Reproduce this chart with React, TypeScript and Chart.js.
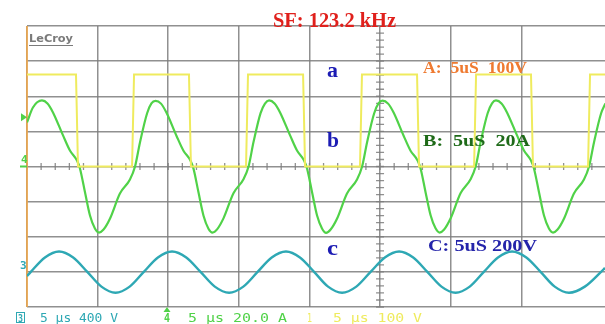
import React, { useEffect, useRef } from "react";
import { Chart, registerables } from "chart.js";

Chart.register(...registerables);

// Time base: 5 µs/div, visible window in µs
const timeStartUs = 0;
const timeEndUs = 40.93;
const timeStepUs = 5;
const centerTimeUs = 25;

// Channel 1 (yellow), 100 V/div
const yellowTimes = [0, 3.47, 3.61, 7.44, 7.58, 11.47, 11.61, 15.51, 15.65, 19.55, 19.69, 23.58, 23.72, 27.62, 27.76, 31.66, 31.8, 35.69, 35.83, 39.73, 39.87, 40.93];
const yellowVolts = [262, 262, 0, 0, 262, 262, 0, 0, 262, 262, 0, 0, 262, 262, 0, 0, 262, 262, 0, 0, 262, 262];

// Channel 4 (green), 20 A/div
const greenTimes = [
  0, 0.42,
  1.06, 1.45, 1.84, 2.55, 3.04, 3.54, 3.75, 4.11, 4.46, 4.81, 5.1, 5.42, 5.88, 6.58, 7.29, 7.65, 8.0, 8.5, 8.81,
  9.1, 9.49, 9.88, 10.59, 11.08, 11.58, 11.79, 12.15, 12.5, 12.85, 13.14, 13.46, 13.92, 14.62, 15.33, 15.69, 16.04, 16.54, 16.85,
  17.14, 17.53, 17.92, 18.63, 19.12, 19.62, 19.83, 20.19, 20.54, 20.89, 21.18, 21.5, 21.96, 22.66, 23.37, 23.73, 24.08, 24.58, 24.89,
  25.18, 25.57, 25.96, 26.67, 27.16, 27.66, 27.87, 28.23, 28.58, 28.93, 29.22, 29.54, 30.0, 30.7, 31.41, 31.77, 32.12, 32.62, 32.93,
  33.21, 33.6, 33.99, 34.7, 35.19, 35.69, 35.9, 36.26, 36.61, 36.96, 37.25, 37.57, 38.03, 38.73, 39.44, 39.8, 40.15, 40.65, 40.96,
];
const greenAmps = [
  25.1, 33.6,
  37.6, 35.9, 30.8, 17.7, 9.1, 3.4, -1.1, -14.8, -27.9, -35.3, -37.6, -35.9, -29.6, -15.4, -7.4, 0, 13.7, 30.2, 35.9,
  37.4, 35.8, 30.6, 17.4, 9.0, 3.3, -1.2, -15.0, -28.0, -35.4, -37.6, -35.8, -29.4, -15.2, -7.2, 0, 13.9, 30.4, 35.8,
  37.6, 35.9, 30.8, 17.7, 9.1, 3.4, -1.1, -14.8, -27.9, -35.3, -37.8, -35.9, -29.6, -15.4, -7.4, 0, 13.7, 30.2, 35.9,
  37.5, 35.8, 30.7, 17.5, 9.0, 3.4, -1.1, -14.9, -27.8, -35.2, -37.6, -35.9, -29.5, -15.3, -7.3, 0, 13.8, 30.3, 35.9,
  37.6, 35.9, 30.8, 17.7, 9.1, 3.4, -1.1, -14.8, -27.9, -35.3, -37.6, -35.9, -29.6, -15.4, -7.4, 0, 13.7, 30.2, 35.9,
];

// Channel 3 (cyan), 400 V/div, offset -3 div
const cyanTimes = [0, 0.27, 1.27, 2.27, 3.27, 4.27, 5.27, 6.27, 7.27, 8.27, 9.27, 10.27, 11.28, 12.29, 13.3, 14.31, 15.32, 16.33, 17.33, 18.34, 19.33, 20.33, 21.32, 22.31, 23.32, 24.33, 25.34, 26.35, 27.35, 28.35, 29.35, 30.35, 31.35, 32.35, 33.35, 34.35, 35.36, 36.37, 37.37, 38.38, 39.5, 40.65, 40.93];
const cyanVolts = [-48, 0, 164, 232, 164, 0, -168, -238, -168, 0, 164, 232, 164, 0, -168, -238, -168, 0, 164, 232, 164, 0, -168, -238, -168, 0, 164, 232, 164, 0, -168, -238, -168, 0, 164, 232, 164, 0, -168, -238, -168, 0, 45];

// Vertical scales (per division) and screen divisions
const divisions = 4;
const yellowPerDiv = 100;
const greenPerDiv = 20;
const cyanPerDiv = 400;
const cyanOffsetDiv = -3;

// Text labels
const titleText = "SF: 123.2 kHz";
const traceLetters = ["a", "b", "c"];
const traceNotes = ["A:  5uS  100V", "B:  5uS  20A", "C: 5uS 200V"];
const footerChannels = ["3", "4", "1"];
const footerTexts = ["5 \u00b5s 400 V", "5 \u00b5s 20.0 A", "5 \u00b5s 100 V"];
const brandText = "LeCroy";

const COL_YELLOW = "#efeb5e";
const COL_GREEN = "#50d248";
const COL_CYAN = "#2ea8b4";
const COL_GRID = "rgba(125,125,125,0.85)";

const SERIF = '"Liberation Serif", "DejaVu Serif", serif';
const MONO = '"DejaVu Sans Mono", monospace';

function fitText(ctx: CanvasRenderingContext2D, text: string, x: number, base: number, width: number, font: string, color: string) {
  ctx.save();
  ctx.font = font;
  const m = ctx.measureText(text).width || 1;
  ctx.translate(x, base);
  ctx.scale(width / m, 1);
  ctx.fillStyle = color;
  ctx.textBaseline = "alphabetic";
  ctx.fillText(text, 0, 0);
  ctx.restore();
}

const scopePlugin = {
  id: "scopeOverlay",
  beforeDatasetsDraw(chart: any) {
    const { ctx, chartArea, scales } = chart;
    const xs = scales.x;
    const ys = scales.y;
    const cx = xs.getPixelForValue(centerTimeUs);
    const cy = ys.getPixelForValue(0);
    ctx.save();
    ctx.strokeStyle = COL_GRID;
    ctx.lineWidth = 1.3;
    ctx.beginPath();
    // minor ticks on vertical center line (0.2 div)
    for (let v = -divisions * yellowPerDiv; v <= divisions * yellowPerDiv; v += yellowPerDiv / 5) {
      const py = ys.getPixelForValue(v);
      ctx.moveTo(cx - 4, py);
      ctx.lineTo(cx + 4, py);
    }
    // minor ticks on horizontal center line (0.2 div)
    for (let t = timeStartUs; t <= timeEndUs; t += timeStepUs / 5) {
      const px = xs.getPixelForValue(t);
      ctx.moveTo(px, cy - 3.5);
      ctx.lineTo(px, cy + 3.5);
    }
    ctx.stroke();
    // orange left border
    ctx.strokeStyle = "#f3a94a";
    ctx.lineWidth = 1.6;
    ctx.beginPath();
    ctx.moveTo(chartArea.left, chartArea.top);
    ctx.lineTo(chartArea.left, chartArea.bottom);
    ctx.stroke();
    ctx.restore();
  },
  afterDraw(chart: any) {
    const { ctx, chartArea, scales } = chart;
    const ys = scales.y;
    const yg = scales.yG;
    const yc = scales.yC;
    ctx.save();
    // brand
    ctx.font = 'bold 11px "DejaVu Sans", sans-serif';
    ctx.fillStyle = "#7a7a7a";
    fitText(ctx, brandText, chartArea.left + 2, chartArea.top + 16, 44, 'bold 11px "DejaVu Sans", sans-serif', "#7a7a7a");
    ctx.strokeStyle = "#7a7a7a";
    ctx.lineWidth = 1;
    ctx.beginPath();
    ctx.moveTo(chartArea.left + 2, chartArea.top + 19.5);
    ctx.lineTo(chartArea.left + 46, chartArea.top + 19.5);
    ctx.stroke();

    // left markers
    const trigY = yg.getPixelForValue(28);
    ctx.fillStyle = COL_GREEN;
    ctx.beginPath();
    ctx.moveTo(chartArea.left - 6, trigY - 4);
    ctx.lineTo(chartArea.left, trigY);
    ctx.lineTo(chartArea.left - 6, trigY + 4);
    ctx.closePath();
    ctx.fill();
    const g0 = yg.getPixelForValue(0);
    ctx.fillRect(chartArea.left - 7, g0 - 1, 7, 2);
    ctx.font = "bold 11px " + MONO;
    ctx.fillText(footerChannels[1], chartArea.left - 6, g0 - 4);
    const c0 = yc.getPixelForValue(0);
    ctx.fillStyle = COL_CYAN;
    ctx.fillText(footerChannels[0], chartArea.left - 7, c0 - 3);

    // title
    fitText(ctx, titleText, 273, chartArea.top + 1, 123, "bold 20px " + SERIF, "#e0201c");

    // trace letters
    const letterFont = "bold 20px " + SERIF;
    const blue = "#1c1cb4";
    fitText(ctx, traceLetters[0], 327, 77, 11, letterFont, blue);
    fitText(ctx, traceLetters[1], 327, 147, 12, letterFont, blue);
    fitText(ctx, traceLetters[2], 327, 255, 11, letterFont, blue);

    // channel notes
    const noteFont = "bold 16px " + SERIF;
    fitText(ctx, traceNotes[0], 423, 73, 104, noteFont, "#ef7a30");
    fitText(ctx, traceNotes[1], 423, 146, 107, noteFont, "#1e6a18");
    fitText(ctx, traceNotes[2], 428, 251, 109, noteFont, "#2424aa");

    // footer
    const fy = 322;
    const fFont = "12px " + MONO;
    ctx.strokeStyle = COL_CYAN;
    ctx.lineWidth = 1;
    ctx.strokeRect(16.5, 312.5, 8, 10);
    fitText(ctx, footerChannels[0], 18, fy, 5, "bold 11px " + MONO, COL_CYAN);
    fitText(ctx, footerTexts[0], 40, fy, 78, fFont, COL_CYAN);
    fitText(ctx, footerChannels[1], 164, fy, 6, "bold 12px " + MONO, COL_GREEN);
    ctx.fillStyle = COL_GREEN;
    ctx.beginPath();
    ctx.moveTo(163.5, 312);
    ctx.lineTo(167, 307);
    ctx.lineTo(170.5, 312);
    ctx.closePath();
    ctx.fill();
    fitText(ctx, footerTexts[1], 188, fy, 99, fFont, COL_GREEN);
    fitText(ctx, footerChannels[2], 307, fy, 5, "12px " + MONO, COL_YELLOW);
    fitText(ctx, footerTexts[2], 333, fy, 89, fFont, COL_YELLOW);
    ctx.restore();
  },
};

function pts(times: number[], vals: number[]) {
  return times.map((t, i) => ({ x: t, y: vals[i] }));
}

export default function App() {
  const ref = useRef<HTMLCanvasElement | null>(null);
  useEffect(() => {
    if (!ref.current) return;
    const onlySteps = (scale: any, step: number) => {
      scale.ticks = scale.ticks.filter((t: any) => Math.abs(t.value / step - Math.round(t.value / step)) < 1e-6);
    };
    const chart = new Chart(ref.current, {
      type: "line",
      data: {
        datasets: [
          {
            label: "Ch1",
            data: pts(yellowTimes, yellowVolts),
            borderColor: COL_YELLOW,
            borderWidth: 2,
            pointRadius: 0,
            tension: 0,
            yAxisID: "y",
          },
          {
            label: "Ch4",
            data: pts(greenTimes, greenAmps),
            borderColor: COL_GREEN,
            borderWidth: 2.2,
            pointRadius: 0,
            cubicInterpolationMode: "monotone",
            yAxisID: "yG",
          },
          {
            label: "Ch3",
            data: pts(cyanTimes, cyanVolts),
            borderColor: COL_CYAN,
            borderWidth: 2.4,
            pointRadius: 0,
            cubicInterpolationMode: "monotone",
            yAxisID: "yC",
          },
        ],
      },
      options: {
        animation: false,
        responsive: false,
        layout: { padding: { left: 27, top: 26, right: 0, bottom: 17 } },
        plugins: { legend: { display: false }, tooltip: { enabled: false } },
        scales: {
          x: {
            type: "linear",
            min: timeStartUs,
            max: timeEndUs,
            ticks: { display: false, stepSize: timeStepUs },
            afterBuildTicks: (s: any) => onlySteps(s, timeStepUs),
            grid: { color: COL_GRID, lineWidth: 1.5, drawTicks: false },
            border: { display: false },
          },
          y: {
            type: "linear",
            min: -divisions * yellowPerDiv,
            max: divisions * yellowPerDiv,
            ticks: { display: false, stepSize: yellowPerDiv },
            grid: { color: COL_GRID, lineWidth: 1.5, drawTicks: false },
            border: { display: false },
          },
          yG: {
            type: "linear",
            display: false,
            min: -divisions * greenPerDiv,
            max: divisions * greenPerDiv,
          },
          yC: {
            type: "linear",
            display: false,
            min: (-divisions - cyanOffsetDiv) * cyanPerDiv,
            max: (divisions - cyanOffsetDiv) * cyanPerDiv,
          },
        },
      },
      plugins: [scopePlugin],
    } as any);
    return () => chart.destroy();
  }, []);
  return (
    <div style={{ position: "fixed", left: 0, top: 0, width: 605, height: 324, background: "#ffffff" }}>
      <canvas ref={ref} width={605} height={324} style={{ display: "block" }} />
    </div>
  );
}
